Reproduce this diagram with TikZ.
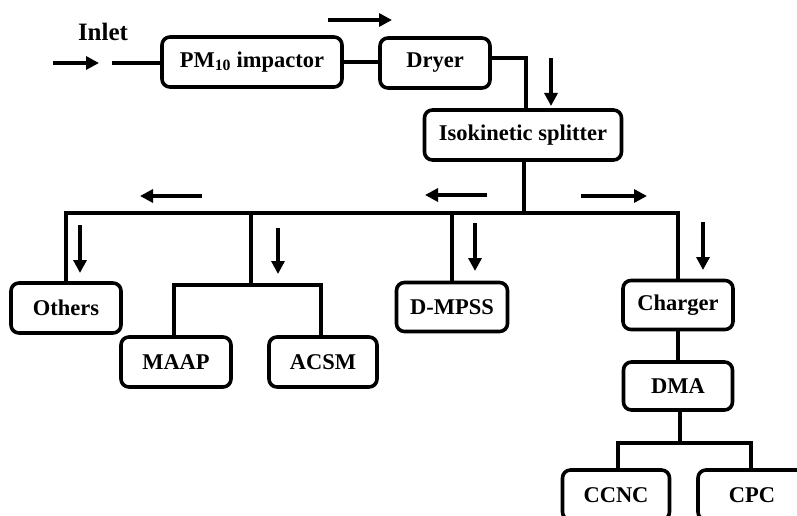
\documentclass[tikz,border=0pt]{standalone}
\usepackage{fontspec}
\setmainfont{Liberation Serif}
\usetikzlibrary{arrows.meta}

\begin{document}
\begin{tikzpicture}[x=1pt, y=-1pt,
  unit/.style={draw, line width=3.6pt, rounded corners=8pt, inner sep=0pt,
    minimum height=50pt, font=\fontsize{22.5}{26}\selectfont\bfseries},
  pipe/.style={line width=3.5pt},
  flow/.style={line width=3.6pt, -{Triangle[length=13pt, width=13pt]}}]
\useasboundingbox (0,0) rectangle (797,516);
\clip (0,0) rectangle (797,516);
% --- Inlet line ---
\node[font=\fontsize{25}{28}\selectfont\bfseries] (inlet) at (103,32) {Inlet};
\node[unit, minimum width=180pt] (pm) at (252,62) {PM\textsubscript{10} impactor};
\node[unit, minimum width=110pt] (dryer) at (435,63) {Dryer};
\node[unit, minimum width=197pt] (split) at (523,135) {Isokinetic splitter};
\coordinate (inA) at (53,63);
\coordinate (inB) at (99,63);
\coordinate (inC) at (112,63);
\draw[flow] (inA) -- (inB);
\draw[pipe] (inC) -- (inC -| pm.west);
\draw[pipe] (pm.east) -- (pm.east -| dryer.west);
\draw[pipe] ([yshift=5pt]dryer.east) -| ([xshift=3pt]split.north);
% --- Instruments ---
\node[unit, minimum width=110pt] (others) at (66,308) {Others};
\node[unit, minimum width=110pt] (maap) at (176,362) {MAAP};
\node[unit, minimum width=108pt] (acsm) at (323,362) {ACSM};
\node[unit, minimum width=111pt, minimum height=49pt] (dmpss) at (452,307) {D-MPSS};
\node[unit, minimum width=110pt, minimum height=49pt] (charger) at (678,305) {Charger};
\node[unit, minimum width=109pt, minimum height=48pt] (dma) at (678,386) {DMA};
\node[unit, minimum width=107pt] (ccnc) at (616,495) {CCNC};
\node[unit, minimum width=108pt] (cpc) at (752,495) {CPC};
% Main bus
\coordinate (hub) at (524,213);
\coordinate (mhub) at (251,285);
\coordinate (dhub) at (680,443);
\draw[pipe] ([xshift=1pt]split.south) -- (hub);
\draw[pipe] (others.north) |- (hub);
\draw[pipe] (hub) -| (charger.north);
\draw[pipe] (dmpss.north) -- (dmpss.north |- hub);
\draw[pipe] (mhub) -- (mhub |- hub);
\draw[pipe] ([xshift=-2pt]maap.north) |- (mhub) -| ([xshift=-2pt]acsm.north);
\draw[pipe] (charger.south) -- (dma.north);
\draw[pipe] ([xshift=2pt]dma.south) -- (dhub);
\draw[pipe] ([xshift=2pt]ccnc.north) |- (dhub) -| ([xshift=-1pt]cpc.north);
% --- Flow arrows ---
\coordinate (fa1) at (328,20);  \coordinate (fb1) at (392,20);
\coordinate (fa2) at (551,58);  \coordinate (fb2) at (551,106);
\coordinate (fa3) at (202,196); \coordinate (fb3) at (140,196);
\coordinate (fa4) at (487,195); \coordinate (fb4) at (425,195);
\coordinate (fa5) at (581,196); \coordinate (fb5) at (647,196);
\coordinate (fa6) at (80,225);  \coordinate (fb6) at (80,273);
\coordinate (fa7) at (278,228); \coordinate (fb7) at (278,274);
\coordinate (fa8) at (475,223); \coordinate (fb8) at (475,271);
\coordinate (fa9) at (703,222); \coordinate (fb9) at (703,270);
\foreach \i in {1,...,9}
  \draw[flow] (fa\i) -- (fb\i);
\end{tikzpicture}
\end{document}
